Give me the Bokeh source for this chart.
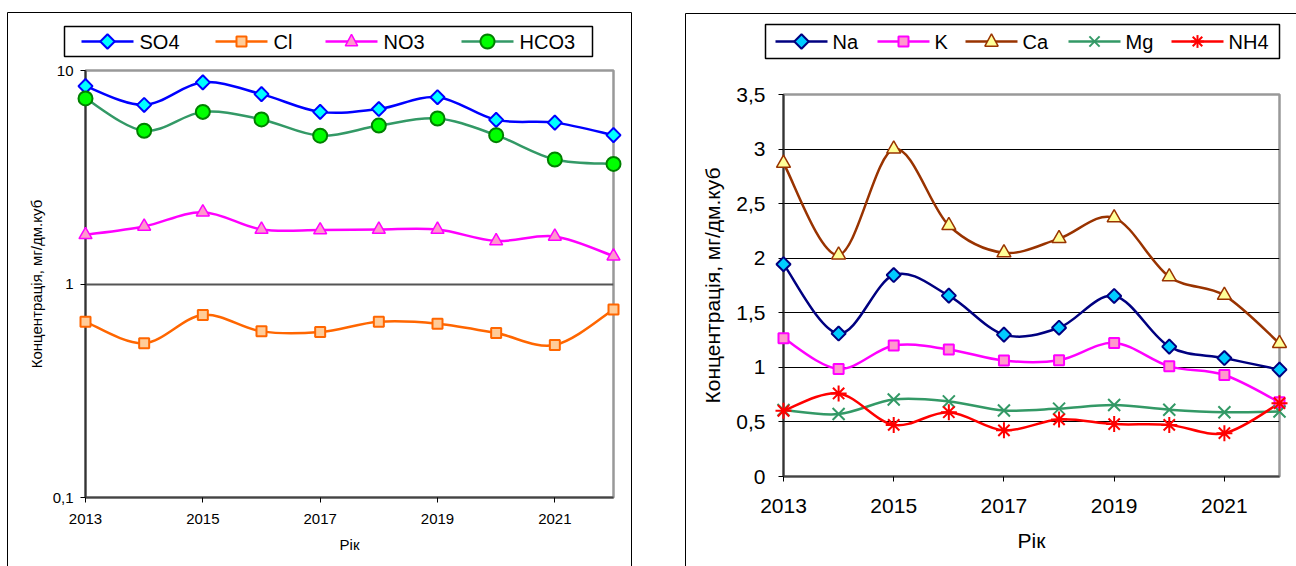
import numpy as np
from bokeh.plotting import figure
from bokeh.models import Range1d, FixedTicker, CustomJSTickFormatter
from bokeh.core.properties import value
from bokeh.layouts import row
from bokeh.embed import file_html
from bokeh.resources import INLINE

# ---------------- data ----------------
years = [2013, 2014, 2015, 2016, 2017, 2018, 2019, 2020, 2021, 2022]

so4 = [8.45, 6.9, 8.8, 7.75, 6.4, 6.6, 7.5, 5.87, 5.7, 4.98]
cl = [0.665, 0.528, 0.716, 0.60, 0.596, 0.665, 0.652, 0.589, 0.518, 0.759]
no3 = [1.70, 1.86, 2.17, 1.80, 1.79, 1.80, 1.80, 1.59, 1.67, 1.35]
hco3 = [7.4, 5.22, 6.4, 5.9, 4.95, 5.52, 5.96, 4.98, 3.83, 3.65]

na = [1.945, 1.31, 1.846, 1.657, 1.30, 1.363, 1.654, 1.19, 1.085, 0.979]
k = [1.267, 0.986, 1.20, 1.164, 1.062, 1.065, 1.224, 1.009, 0.93, 0.68]
ca = [2.87, 2.03, 3.0, 2.30, 2.05, 2.18, 2.37, 1.83, 1.66, 1.22]
mg = [0.609, 0.572, 0.705, 0.688, 0.605, 0.622, 0.655, 0.612, 0.589, 0.595]
nh4 = [0.602, 0.761, 0.473, 0.589, 0.423, 0.523, 0.480, 0.473, 0.397, 0.672]

left_names = ["SO4", "Cl", "NO3", "HCO3"]
right_names = ["Na", "K", "Ca", "Mg", "NH4"]
left_ticks_y = [0.1, 1, 10]
right_ticks_y = [0, 0.5, 1, 1.5, 2, 2.5, 3, 3.5]
x_ticks = [2013, 2015, 2017, 2019, 2021]

FONT = "Liberation Sans"
comma_fmt = CustomJSTickFormatter(code="return tick.toString().replace('.', ',');")

# series styles: line colour, marker, size, fill, marker line, marker line width, angle
STY = {
    "SO4": ("#0000FF", "square", 10, "#00FFFF", "#0000FF", 2, np.pi / 4),
    "Cl": ("#FF6600", "square", 10, "#FFCC99", "#FF6600", 2, 0.0),
    "NO3": ("#FF00FF", "triangle", 13, "#FF99CC", "#FF00FF", 1.5, 0.0),
    "HCO3": ("#339966", "circle", 14, "#00FF00", "#008000", 2, 0.0),
    "Na": ("#000080", "square", 10, "#00CCFF", "#000080", 2, np.pi / 4),
    "K": ("#FF00FF", "square", 10, "#FF99CC", "#FF00FF", 2, 0.0),
    "Ca": ("#993300", "triangle", 14, "#FFFF99", "#993300", 1.5, 0.0),
    "Mg": ("#339966", "x", 17, None, "#339966", 2, 0.0),
    "NH4": ("#FF0000", "asterisk", 16, None, "#FF0000", 2, 0.0),
}


def smooth(xs, ys, log=False):
    x = np.asarray(xs, float)
    y = np.log10(np.asarray(ys, float)) if log else np.asarray(ys, float)
    n = len(x)
    xp = np.concatenate([[x[0]], x, [x[-1]]])
    yp = np.concatenate([[y[0]], y, [y[-1]]])
    d = dict(
        x0=x[:-1], x1=x[1:], y0=y[:-1], y1=y[1:],
        cx0=x[:-1] + (xp[2:n + 1] - xp[0:n - 1]) / 6,
        cy0=y[:-1] + (yp[2:n + 1] - yp[0:n - 1]) / 6,
        cx1=x[1:] - (xp[3:n + 2] - xp[1:n]) / 6,
        cy1=y[1:] - (yp[3:n + 2] - yp[1:n]) / 6,
    )
    if log:
        for key in ("y0", "y1", "cy0", "cy1"):
            d[key] = 10 ** d[key]
    return d


def series(p, name, ys, log):
    lc, mk, ms, mf, ml, mlw, ang = STY[name]
    p.bezier(line_color=lc, line_width=2.5, **smooth(years, ys, log))
    p.scatter(years, ys, marker=mk, size=ms, fill_color=mf, line_color=ml,
              line_width=mlw, angle=ang, level="overlay")


def frame_box(p, to_x, to_y, left, right, top, bottom, lw):
    """Decorative rectangle given in canvas pixels (converted through the plot's scales)."""
    p.quad(left=[to_x(left)], right=[to_x(right)], top=[to_y(top)], bottom=[to_y(bottom)],
           fill_alpha=0, line_color="black", line_width=lw, level="overlay")


def legend_symbol(p, to_x, to_y, cx, cy, name):
    """Marker sample for the legend, outlined in canvas pixels."""
    lc, mk, ms, mf, ml, mlw, ang = STY[name]
    pts = None
    if mk == "square" and ang:
        r = ms * 0.72
        pts = [(0, -r), (r, 0), (0, r), (-r, 0)]
    elif mk == "square":
        h = ms / 2
        pts = [(-h, -h), (h, -h), (h, h), (-h, h)]
    elif mk == "triangle":
        s = ms * 0.95
        pts = [(0, -0.58 * s), (s / 2, 0.35 * s), (-s / 2, 0.35 * s)]
    elif mk == "circle":
        t = np.linspace(0, 2 * np.pi, 28, endpoint=False)
        pts = list(zip(ms / 2 * np.cos(t), ms / 2 * np.sin(t)))
    if pts is not None:
        p.patch([to_x(cx + dx) for dx, dy in pts], [to_y(cy + dy) for dx, dy in pts],
                fill_color=mf, line_color=ml, line_width=mlw, level="overlay")
        return
    d = ms * 0.3
    arms = [((-d, -d), (d, d)), ((-d, d), (d, -d))]
    if mk == "asterisk":
        a = ms * 0.4
        arms += [((0, -a), (0, a)), ((-a, 0), (a, 0))]
    for (ax0, ay0), (ax1, ay1) in arms:
        p.segment(x0=[to_x(cx + ax0)], y0=[to_y(cy + ay0)],
                  x1=[to_x(cx + ax1)], y1=[to_y(cy + ay1)],
                  line_color=ml, line_width=mlw, level="overlay")


def legend(p, to_x, to_y, names, starts, yc, standoff):
    """Legend drawn outside the plot frame (canvas pixel positions)."""
    for name, x0 in zip(names, starts):
        lc = STY[name][0]
        p.segment(x0=[to_x(x0)], x1=[to_x(x0 + 52)], y0=[to_y(yc)], y1=[to_y(yc)],
                  line_color=lc, line_width=2.5, level="overlay")
        legend_symbol(p, to_x, to_y, x0 + 26, yc, name)
        p.text([to_x(x0 + 52 + standoff)], [to_y(yc)], text=[name],
               text_font=value(FONT), text_font_size="20px", text_color="black",
               text_baseline="middle", text_align="left", level="overlay")


def style_axes(p, fs, tick_standoff, label_standoff):
    p.frame_align = False
    for ax in (p.xaxis[0], p.yaxis[0]):
        ax.major_label_text_font = FONT
        ax.major_label_text_font_size = fs
        ax.major_label_text_color = "black"
        ax.axis_label_text_font = FONT
        ax.axis_label_text_font_size = fs
        ax.axis_label_text_font_style = "normal"
        ax.axis_label_text_color = "black"
        ax.minor_tick_line_color = None
        ax.major_tick_in = 0
        ax.major_tick_out = 5
        ax.major_tick_line_color = "black"
        ax.major_tick_line_width = 1
    p.yaxis[0].axis_line_color = "#333333"
    p.yaxis[0].axis_line_width = 2
    p.xaxis[0].axis_line_color = "#444444"
    p.xaxis[0].axis_line_width = 2
    p.xaxis[0].major_label_standoff = tick_standoff[0]
    p.yaxis[0].major_label_standoff = tick_standoff[1]
    p.xaxis[0].axis_label_standoff = label_standoff[0]
    p.yaxis[0].axis_label_standoff = label_standoff[1]
    p.xaxis[0].ticker = FixedTicker(ticks=x_ticks)
    p.xaxis[0].formatter = comma_fmt
    p.yaxis[0].formatter = comma_fmt
    p.xaxis.axis_label = "Рік"
    p.yaxis.axis_label = "Концентрація, мг/дм.куб"
    p.xgrid.grid_line_color = None
    p.outline_line_color = "#999999"
    p.outline_line_width = 2.5
    p.background_fill_color = "white"
    p.border_fill_color = "white"


# ---------------- left chart (anions, log) ----------------
W1, H = 660, 566
L1, R1, T1, B1 = 85, 47, 70, 69
p1 = figure(width=W1, height=H, x_range=Range1d(2013, 2022),
            y_range=Range1d(0.1, 10), y_axis_type="log",
            output_backend="svg", toolbar_location=None,
            min_border_left=L1, min_border_right=R1,
            min_border_top=T1, min_border_bottom=B1)
style_axes(p1, "15px", (11, 7), (9, 5))
p1.yaxis[0].ticker = FixedTicker(ticks=left_ticks_y)
p1.ygrid.ticker = FixedTicker(ticks=[1])
p1.ygrid.grid_line_color = "#555555"
p1.ygrid.grid_line_width = 2

for nm, vals in zip(left_names, [so4, cl, no3, hco3]):
    series(p1, nm, vals, True)

fw1, fh1 = W1 - L1 - R1, H - T1 - B1
to_x1 = lambda c: 2013 + (c - L1) * 9 / fw1
to_y1 = lambda c: 10 ** (1 - (c - T1) * 2 / fh1)
frame_box(p1, to_x1, to_y1, 64, 592, 26, 56, 1.5)     # legend frame
frame_box(p1, to_x1, to_y1, 7, 631, 12, 700, 1)       # chart frame
legend(p1, to_x1, to_y1, left_names, [81, 215, 325, 461], 41, 6)

# ---------------- right chart (cations, linear) ----------------
W2 = 636
L2, R2, T2, B2 = 123, 17, 94, 90
p2 = figure(width=W2, height=H, x_range=Range1d(2013, 2022),
            y_range=Range1d(0, 3.5),
            output_backend="svg", toolbar_location=None,
            min_border_left=L2, min_border_right=R2,
            min_border_top=T2, min_border_bottom=B2)
style_axes(p2, "21px", (17, 13), (13, 9))
p2.yaxis[0].ticker = FixedTicker(ticks=right_ticks_y)
p2.ygrid.ticker = FixedTicker(ticks=right_ticks_y[1:-1])
p2.ygrid.grid_line_color = "black"
p2.ygrid.grid_line_width = 1

for nm, vals in zip(right_names, [na, k, ca, mg, nh4]):
    series(p2, nm, vals, False)

fw2, fh2 = W2 - L2 - R2, H - T2 - B2
to_x2 = lambda c: 2013 + (c - L2) * 9 / fw2
to_y2 = lambda c: 3.5 - (c - T2) * 3.5 / fh2
frame_box(p2, to_x2, to_y2, 765 - W1, 1279 - W1, 24, 58, 1.5)   # legend frame
frame_box(p2, to_x2, to_y2, 685 - W1, 700, 13, 700, 1)          # chart frame
legend(p2, to_x2, to_y2, right_names,
       [775 - W1, 877 - W1, 965 - W1, 1068 - W1, 1171 - W1], 41, 5)

layout = row(p1, p2)
open("out.html", "w").write(file_html(layout, INLINE))
